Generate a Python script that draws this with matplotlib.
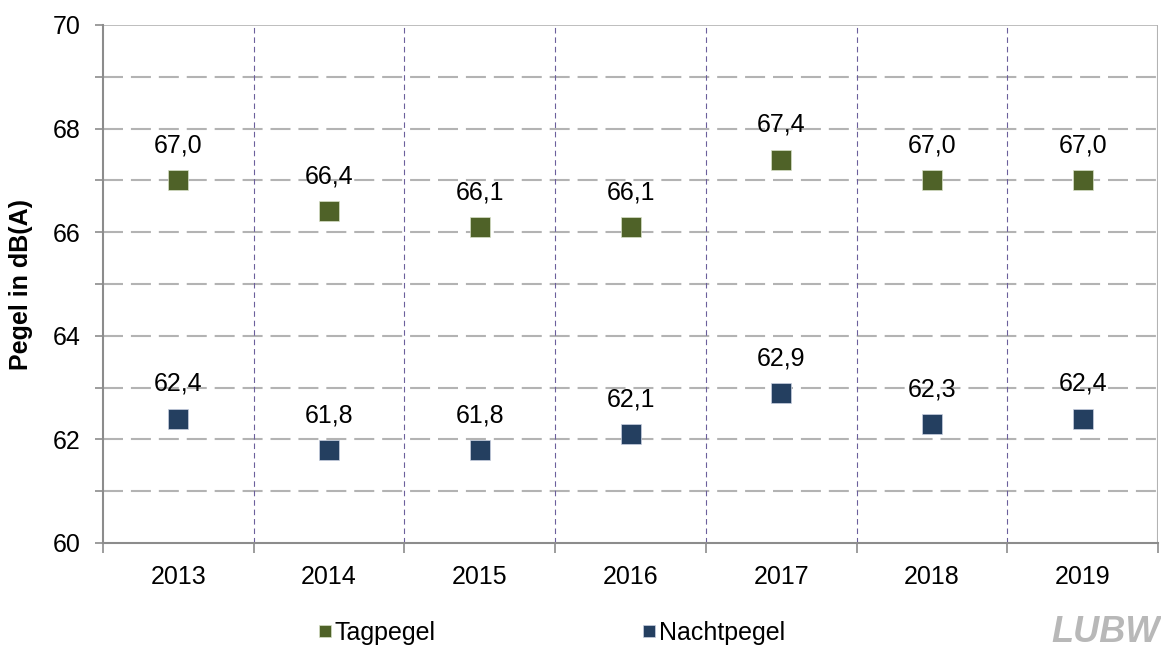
import matplotlib
matplotlib.use('Agg')
import matplotlib.pyplot as plt
import numpy as np

plt.rcParams['font.family'] = ['Liberation Sans', 'DejaVu Sans']

years = ['2013', '2014', '2015', '2016', '2017', '2018', '2019']
tagpegel = [67.0, 66.4, 66.1, 66.1, 67.4, 67.0, 67.0]
nachtpegel = [62.4, 61.8, 61.8, 62.1, 62.9, 62.3, 62.4]

col_tag = '#4f6228'
col_nacht = '#243f60'
col_grid = '#b3b3b3'

fig = plt.figure(figsize=(11.61, 6.5), dpi=100)
ax = fig.add_axes([103/1161, 107/650, 1055/1161, 518/650])

x = np.arange(len(years))
ax.set_xlim(-0.5, len(years) - 0.5)
ax.set_ylim(60, 70)

# horizontale Hilfslinien je 1 dB
for yv in range(61, 70):
    ax.axhline(yv, color=col_grid, lw=1.5, ls=(0, (9.6, 3.8)), zorder=1)
ax.axhline(70, color=col_grid, lw=1.2, zorder=1)
# senkrechte Trennlinien zwischen den Jahren
for xv in np.arange(0.5, len(years) - 1, 1.0):
    ax.axvline(xv, color='#6c5f9c', lw=0.8, ls=(0, (5, 3.5)), zorder=1)
ax.axvline(len(years) - 0.5, color=col_grid, lw=1.5, zorder=1)

ax.plot(x, tagpegel, ls='none', marker='s', ms=15, color=col_tag,
        mec='#d8e0c8', mew=0.5, label='Tagpegel', zorder=3)
ax.plot(x, nachtpegel, ls='none', marker='s', ms=15, color=col_nacht,
        mec='#c8d0e0', mew=0.5, label='Nachtpegel', zorder=3)

for serie in (tagpegel, nachtpegel):
    for xi, v in zip(x, serie):
        ax.annotate(f'{v:.1f}'.replace('.', ','), (xi, v), xytext=(0, 25),
                    textcoords='offset points', ha='center', va='center',
                    fontsize=18)

for s in ['top', 'right']:
    ax.spines[s].set_visible(False)
for s in ['left', 'bottom']:
    ax.spines[s].set_color('#8c8c8c')
    ax.spines[s].set_linewidth(1.5)

ax.set_yticks(range(60, 71, 2))
ax.set_yticks(range(60, 71, 1), minor=True)
ax.tick_params(axis='y', which='both', length=6, width=1.2, color='#8c8c8c',
               labelsize=18, pad=10)
ax.set_xticks(x)
ax.set_xticklabels(years)
ax.set_xticks(np.arange(-0.5, len(years), 1.0), minor=True)
ax.tick_params(axis='x', which='major', length=0, labelsize=18, pad=16)
ax.tick_params(axis='x', which='minor', length=7, width=1.2, color='#8c8c8c')
ax.set_ylabel('Pegel in dB(A)', fontsize=18, fontweight='bold')
ax.yaxis.set_label_coords(-70/1055, 0.5)

fig.legend(loc='center', bbox_to_anchor=(552/1161, 17/650), ncol=2,
           frameon=False, fontsize=18, markerscale=0.62, handlelength=0.5,
           handletextpad=0.15, columnspacing=8.3)

fig.text(1160/1161, 17/650, 'LUBW', fontsize=26, fontweight='bold',
         style='italic', color='#b8b8b8', ha='right', va='center')

fig.savefig('out.png', dpi=100)
